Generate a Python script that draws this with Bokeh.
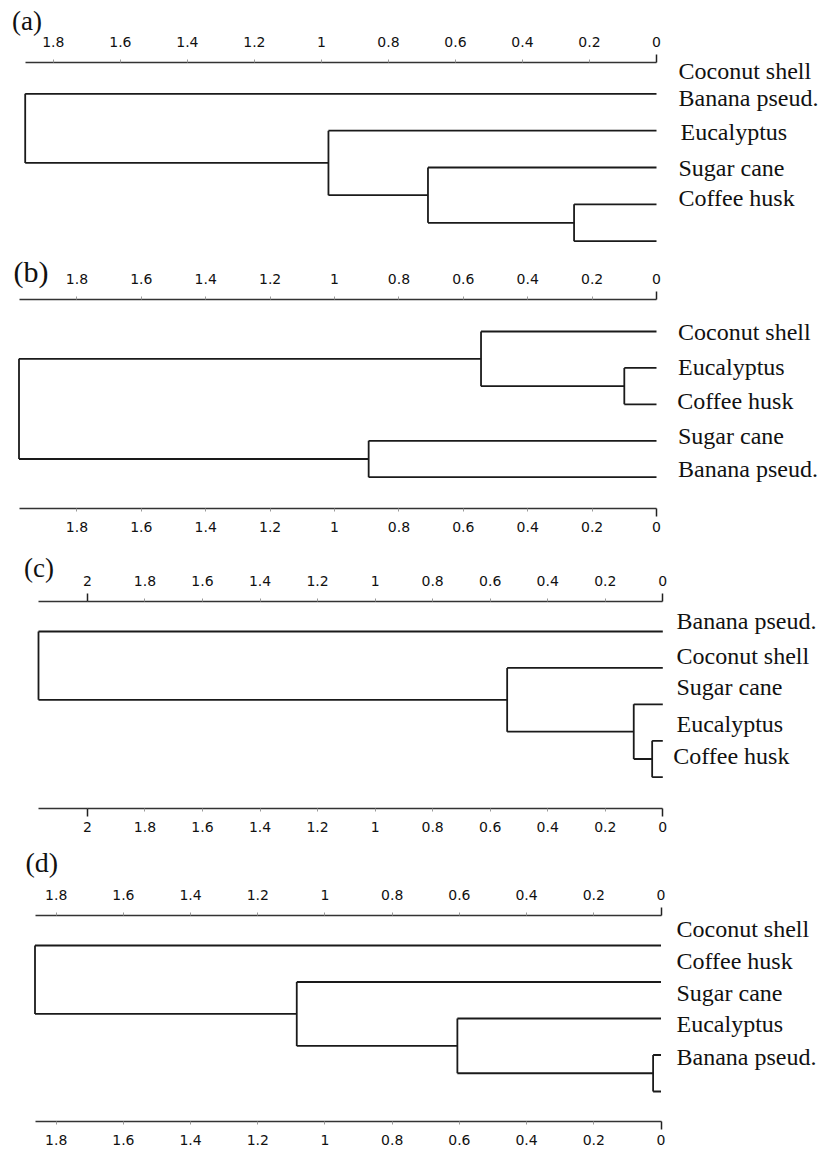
from bokeh.plotting import figure
from bokeh.models import Range1d, LinearAxis, FixedTicker
from bokeh.layouts import column
from bokeh.embed import file_html
from bokeh.resources import INLINE
from bokeh.core.properties import value

# ---------------- data ----------------
panel_letters = ["(a)", "(b)", "(c)", "(d)"]

labels_a = ["Coconut shell", "Banana pseud.", "Eucalyptus", "Sugar cane", "Coffee husk"]
labels_b = ["Coconut shell", "Eucalyptus", "Coffee husk", "Sugar cane", "Banana pseud."]
labels_c = ["Banana pseud.", "Coconut shell", "Sugar cane", "Eucalyptus", "Coffee husk"]
labels_d = ["Coconut shell", "Coffee husk", "Sugar cane", "Eucalyptus", "Banana pseud."]

# merges: pairs of children (leaves 0-4 from top to bottom, new clusters 5, 6, 7, 8)
merges_a = [(3, 4), (2, 5), (1, 6), (0, 7)]
heights_a = [0.246, 0.682, 0.979, 1.884]
merges_b = [(1, 2), (0, 5), (3, 4), (6, 7)]
heights_b = [0.10, 0.545, 0.894, 1.98]
merges_c = [(3, 4), (2, 5), (1, 6), (0, 7)]
heights_c = [0.037, 0.101, 0.541, 2.17]
merges_d = [(3, 4), (2, 5), (1, 6), (0, 7)]
heights_d = [0.0235, 0.606, 1.084, 1.863]

ticks_std = [1.8, 1.6, 1.4, 1.2, 1.0, 0.8, 0.6, 0.4, 0.2, 0.0]
tick_labels_std = ["1.8", "1.6", "1.4", "1.2", "1", "0.8", "0.6", "0.4", "0.2", "0"]
ticks_c = [2.0, 1.8, 1.6, 1.4, 1.2, 1.0, 0.8, 0.6, 0.4, 0.2, 0.0]
tick_labels_c = ["2", "1.8", "1.6", "1.4", "1.2", "1", "0.8", "0.6", "0.4", "0.2", "0"]
long_ticks_std = [0.0]
long_ticks_c = [2.0, 0.0]

# ---------------- layout (pixel positions) ----------------
PAGE_W = 823
FRAME_LEFT = 10          # common left border of all four frames
FIG_TOPS = [0, 250, 545, 836]
AXIS_H = 27.3            # estimated height of the top axis panel
LAYOUT = [
    dict(fig_h=250, axis_top=62.0, axis_bottom=None, frame_bottom=248.0,
         leaf0=93.3, step=36.85, root_x=24.7, zero_x=656.0,
         letter_x=11.5, letter_base=31.0, letter_size=27,
         label_x=[678, 678, 680, 678, 678], label_y=[70, 97, 131, 167, 197]),
    dict(fig_h=295, axis_top=299.0, axis_bottom=508.3, frame_bottom=None,
         leaf0=331.0, step=36.43, root_x=18.5, zero_x=656.0,
         letter_x=13.0, letter_base=282.8, letter_size=30,
         label_x=[677.5, 677.5, 676.7, 677.5, 677.5], label_y=[331, 366.7, 400.7, 435.7, 468.3]),
    dict(fig_h=291, axis_top=600.7, axis_bottom=807.5, frame_bottom=None,
         leaf0=631.0, step=36.43, root_x=38.0, zero_x=662.3,
         letter_x=23.5, letter_base=578.5, letter_size=27,
         label_x=[676, 676, 676, 676, 672.7], label_y=[620.7, 655, 686, 723.3, 755.7]),
    dict(fig_h=313, axis_top=915.0, axis_bottom=1121.0, frame_bottom=None,
         leaf0=945.0, step=36.5, root_x=34.5, zero_x=660.5,
         letter_x=25.0, letter_base=873.0, letter_size=28,
         label_x=[676, 676, 676, 676, 676], label_y=[928.3, 960, 992.7, 1023.3, 1056]),
]

LINE_COLOR = "#1a1a1a"
SERIF = "Liberation Serif"
SANS = "DejaVu Sans"
LABEL_SIZE = "24px"


def dendro_segments(merges, heights, n=5):
    ypos = {i: float(i) for i in range(n)}
    hpos = {i: 0.0 for i in range(n)}
    x0, y0, x1, y1 = [], [], [], []
    for k, ((a, b), h) in enumerate(zip(merges, heights)):
        for c in (a, b):
            x0.append(hpos[c]); x1.append(h); y0.append(ypos[c]); y1.append(ypos[c])
        x0.append(h); x1.append(h); y0.append(ypos[a]); y1.append(ypos[b])
        node = n + k
        ypos[node] = (ypos[a] + ypos[b]) / 2.0
        hpos[node] = h
    return dict(x0=x0, y0=y0, x1=x1, y1=y1)


def make_axis(ticks, tick_labels, long_ticks, root_h, standoff):
    ax = LinearAxis(
        ticker=FixedTicker(ticks=ticks, minor_ticks=long_ticks),
        major_label_overrides={t: s for t, s in zip(ticks, tick_labels)},
        bounds=(0.0, root_h),
    )
    ax.axis_line_color = "#333333"
    ax.axis_line_width = 1.6
    ax.major_tick_in = 0
    ax.major_tick_out = 3
    ax.major_tick_line_color = "#9a9a9a"
    ax.major_tick_line_width = 1
    ax.minor_tick_in = 0
    ax.minor_tick_out = 8
    ax.minor_tick_line_color = "#222222"
    ax.minor_tick_line_width = 1.5
    ax.major_label_text_font = SANS
    ax.major_label_text_font_size = "14px"
    ax.major_label_text_color = "#111111"
    ax.major_label_standoff = standoff
    return ax


def build(i, labels, merges, heights, ticks, tick_labels, long_ticks):
    L = LAYOUT[i]
    fig_top = FIG_TOPS[i]
    root_h = heights[-1]

    mbt = int(round(L["axis_top"] - fig_top))
    frame_top = fig_top + mbt
    fb = L["axis_bottom"] if L["axis_bottom"] is not None else L["frame_bottom"]
    mbb = int(round(fig_top + L["fig_h"] - fb))
    frame_bottom = fig_top + L["fig_h"] - mbb
    frame_left = FRAME_LEFT
    frame_right = PAGE_W

    scale = (L["zero_x"] - L["root_x"]) / root_h
    x_start = root_h + (L["root_x"] - frame_left) / scale
    x_end = -(frame_right - L["zero_x"]) / scale
    y_start = (frame_bottom - L["leaf0"]) / L["step"]
    y_end = (frame_top - L["leaf0"]) / L["step"]

    p = figure(width=PAGE_W, height=L["fig_h"],
               x_range=Range1d(x_start, x_end), y_range=Range1d(y_start, y_end),
               x_axis_type=None, y_axis_type=None,
               output_backend="svg", toolbar_location=None,
               min_border_left=frame_left, min_border_right=0,
               min_border_top=mbt, min_border_bottom=mbb)
    p.outline_line_color = None
    p.grid.visible = False

    p.add_layout(make_axis(ticks, tick_labels, long_ticks, root_h, 8), "above")
    if L["axis_bottom"] is not None:
        p.add_layout(make_axis(ticks, tick_labels, long_ticks, root_h, 5), "below")

    seg = dendro_segments(merges, heights)
    p.segment(x0="x0", y0="y0", x1="x1", y1="y1", source=seg,
              line_color=LINE_COLOR, line_width=1.8)

    rows = [(y - L["leaf0"]) / L["step"] for y in L["label_y"]]
    offs = [lx - L["zero_x"] for lx in L["label_x"]]
    p.text(x=[0.0] * len(labels), y=rows, text=labels, x_offset=offs,
           text_font=value(SERIF), text_font_size=value(LABEL_SIZE),
           text_color="#111111", text_baseline="middle", text_align="left")

    # panel letter as the plot title, pulled down next to the tick labels
    fs = L["letter_size"]
    box_bottom = L["letter_base"] + 0.216 * fs
    title_bottom = frame_top - AXIS_H
    standoff = 2.0 * (title_bottom - box_bottom)
    max_standoff = mbt - AXIS_H - 2 - 1.107 * fs - 1
    standoff = min(standoff, max_standoff)
    p.title.text = panel_letters[i]
    p.title.align = "left"
    p.title.vertical_align = "bottom"
    p.title.offset = L["letter_x"] - frame_left
    p.title.standoff = standoff
    p.title.text_font = SERIF
    p.title.text_font_size = f"{fs}px"
    p.title.text_font_style = "normal"
    p.title.text_color = "#111111"
    return p


pa = build(0, labels_a, merges_a, heights_a, ticks_std, tick_labels_std, long_ticks_std)
pb = build(1, labels_b, merges_b, heights_b, ticks_std, tick_labels_std, long_ticks_std)
pc = build(2, labels_c, merges_c, heights_c, ticks_c, tick_labels_c, long_ticks_c)
pd = build(3, labels_d, merges_d, heights_d, ticks_std, tick_labels_std, long_ticks_std)

layout = column(pa, pb, pc, pd, spacing=0)
open("out.html", "w").write(file_html(layout, INLINE))
